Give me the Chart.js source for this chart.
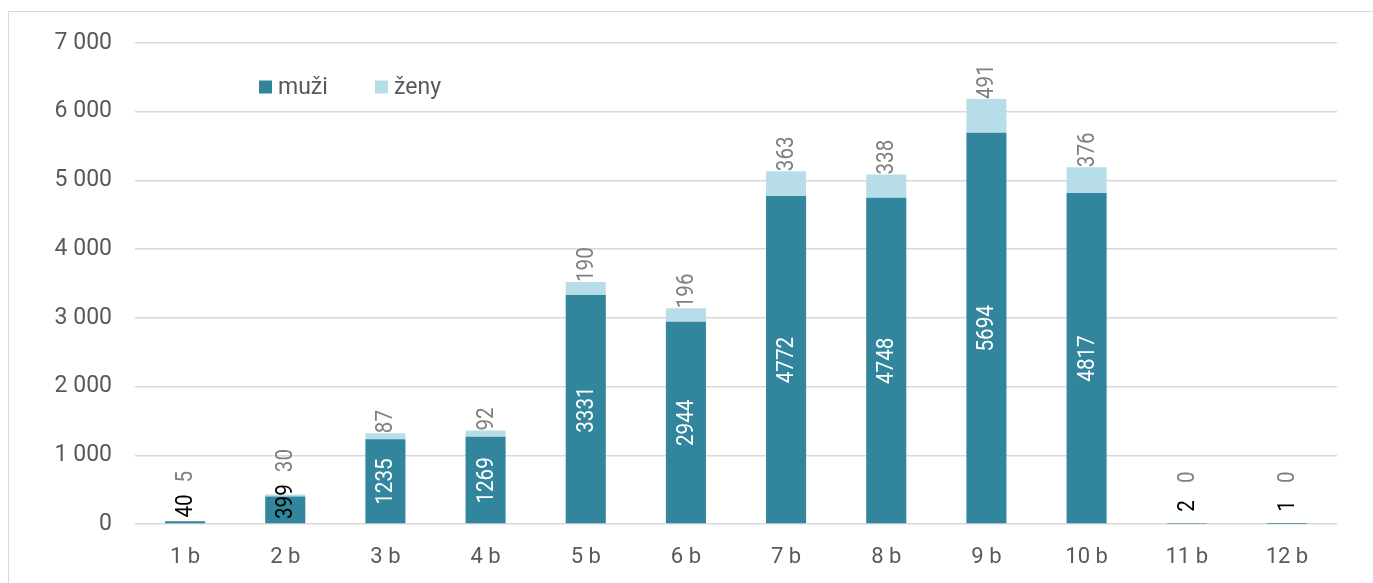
<!DOCTYPE html>
<html><head><meta charset="utf-8">
<script src="https://cdn.jsdelivr.net/npm/chart.js@4"></script>
<style>
html,body{margin:0;padding:0;background:#fff;width:1373px;height:583px;overflow:hidden;}
#frame{position:absolute;left:8px;top:11px;width:1400px;height:620px;border:1.5px solid #d9d9d9;box-sizing:border-box;}
#wrap{position:absolute;left:0;top:0;width:1373px;height:583px;}
</style></head>
<body>
<div id="frame"></div>
<div id="wrap"><canvas id="c" width="1373" height="583"></canvas></div>
<script>
const categories = ["1 b","2 b","3 b","4 b","5 b","6 b","7 b","8 b","9 b","10 b","11 b","12 b"];
const muzi = [40,399,1235,1269,3331,2944,4772,4748,5694,4817,2,1];
const zeny = [5,30,87,92,190,196,363,338,491,376,0,0];
const seriesNames = ["muži","ženy"];
const FONT = "Roboto, 'Noto Sans', sans-serif";
const SX = 0.86;

function drawRot(ctx, txt, x, y, align, color) {
  ctx.save();
  ctx.translate(x, y);
  ctx.rotate(-Math.PI / 2);
  ctx.scale(SX, 1);
  ctx.textAlign = align;
  ctx.fillStyle = color;
  ctx.fillText(txt, 0, 1);
  ctx.restore();
}

const labelPlugin = {
  id: 'labels',
  afterDatasetsDraw(chart) {
    const ctx = chart.ctx;
    const y = chart.scales.y;
    const axisY = y.getPixelForValue(0);
    const m0 = chart.getDatasetMeta(0), m1 = chart.getDatasetMeta(1);
    ctx.save();
    ctx.font = "24px " + FONT;
    ctx.textBaseline = 'middle';
    muzi.forEach((v, i) => {
      const bar = m0.data[i];
      const txt = String(v);
      const w = ctx.measureText(txt).width * SX;
      const top = y.getPixelForValue(v);
      let cy = (top + axisY) / 2;
      const small = (axisY - top) < w + 6;
      if (small) cy = Math.min(cy, axisY - Math.max(w / 2 + 5, 18));
      drawRot(ctx, txt, bar.x, cy, 'center', small ? '#000000' : '#ffffff');
      const mTop = cy - Math.max(w, 22) / 2;
      const bar2 = m1.data[i];
      const stackTop = y.getPixelForValue(v + zeny[i]);
      const zb = Math.min(stackTop, mTop - 12);
      drawRot(ctx, String(zeny[i]), bar2.x, zb, 'left', '#808080');
    });
    // legend
    const items = chart.data.datasets;
    let lx = 259;
    const ly = 87;
    ctx.font = "23px " + FONT;
    ctx.textAlign = 'left';
    items.forEach((ds) => {
      ctx.fillStyle = ds.backgroundColor;
      ctx.fillRect(lx, ly - 6.5, 13, 13);
      ctx.fillStyle = '#595959';
      ctx.fillText(ds.label, lx + 19, ly + 1);
      lx += 116;
    });
    ctx.restore();
  }
};

new Chart(document.getElementById('c'), {
  type: 'bar',
  data: {
    labels: categories,
    datasets: [
      {label: seriesNames[0], data: muzi, backgroundColor: '#31859c', barPercentage: 0.4, categoryPercentage: 1.0, borderWidth: 0},
      {label: seriesNames[1], data: zeny, backgroundColor: '#b7dee8', barPercentage: 0.4, categoryPercentage: 1.0, borderWidth: 0}
    ]
  },
  options: {
    responsive: false,
    animation: false,
    devicePixelRatio: 1,
    layout: {padding: {left: 0, right: 36, top: 43, bottom: 0}},
    plugins: {legend: {display: false}, tooltip: {enabled: false}},
    scales: {
      x: {
        stacked: true,
        grid: {display: false},
        border: {display: false},
        ticks: {color: '#595959', font: {family: FONT, size: 22}, padding: 12, maxRotation: 0},
        afterFit: s => { s.height = 59; }
      },
      y: {
        stacked: true,
        min: 0, max: 7000,
        border: {display: false},
        grid: {color: '#d9d9d9', lineWidth: 1.5, drawTicks: false},
        ticks: {
          stepSize: 1000, color: '#595959', font: {family: FONT, size: 23}, padding: 23,
          callback: v => v === 0 ? '0' : (Math.floor(v / 1000) + ' ' + String(v % 1000).padStart(3, '0'))
        },
        afterFit: s => { s.width = 135; }
      }
    }
  },
  plugins: [labelPlugin]
});
</script>
</body></html>
